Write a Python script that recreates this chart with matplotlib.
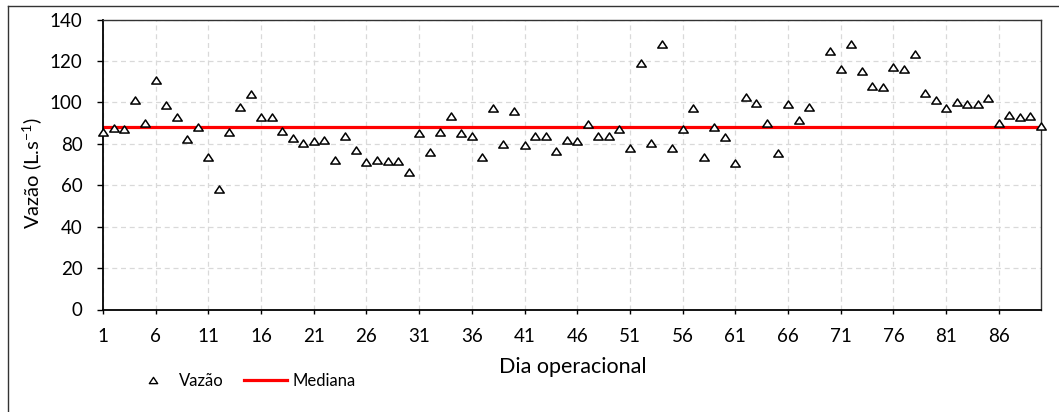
import numpy as np
import matplotlib
matplotlib.use("Agg")
import matplotlib.pyplot as plt
from matplotlib.lines import Line2D
from matplotlib.path import Path

plt.rcParams['font.family'] = ['Lato', 'DejaVu Sans']
plt.rcParams['mathtext.fontset'] = 'custom'
plt.rcParams['mathtext.rm'] = 'Lato'

# Daily flow (L/s) per operational day; day 69 has no record
dias = list(range(1, 91))
vazao = [
    85.6, 87.7, 86.9, 100.9, 90.1, 110.6, 98.5, 92.9, 82.4, 88.2,
    73.5, 58.3, 85.6, 97.8, 104.1, 92.7, 92.7, 86.1, 83.0, 80.3,
    81.3, 81.9, 72.3, 83.8, 76.8, 71.0, 72.3, 71.6, 71.6, 66.6,
    85.1, 76.1, 85.6, 93.3, 85.0, 83.8, 73.5, 97.2, 79.8, 95.9,
    79.2, 83.8, 83.8, 76.6, 81.9, 81.3, 89.6, 83.8, 83.8, 87.1,
    78.0, 118.8, 80.5, 128.4, 78.2, 87.1, 97.2, 73.5, 88.3, 83.2,
    70.5, 102.8, 99.8, 90.1, 75.5, 99.1, 91.6, 97.8, np.nan, 124.7,
    115.9, 128.4, 115.1, 108.1, 107.3, 117.0, 116.3, 123.4, 104.3, 101.1,
    97.2, 100.4, 99.1, 99.1, 102.3, 90.1, 94.1, 92.9, 93.5, 88.8,
]
mediana = 88.0
x_ticks = list(range(1, 90, 5))
y_ticks = list(range(0, 141, 20))

# wide, flat triangle marker
tri = Path([(0, 0.75), (-1, -0.75), (1, -0.75), (0, 0.75)], closed=True)

W, H = 1059, 412
fig = plt.figure(figsize=(W / 100, H / 100), dpi=100)
ax = fig.add_axes([103 / W, 1 - 309.5 / H, (1041 - 103) / W, (309.5 - 19.5) / H])

ax.plot(dias, [mediana] * len(dias), color='#FF0000', lw=2.3, zorder=2, label='Mediana')
ax.plot(dias, vazao, linestyle='none', marker=tri, markersize=6.8,
        markerfacecolor='white', markeredgecolor='black', markeredgewidth=1.1,
        zorder=3, label='Vazão', clip_on=False)

ax.set_xlim(1, 90)
ax.set_ylim(0, 140)
ax.set_xticks(x_ticks)
ax.set_yticks(y_ticks)
ax.tick_params(axis='both', labelsize=13.5, color='black', direction='out', width=1)
ax.tick_params(axis='x', length=3, pad=10)
ax.tick_params(axis='y', length=4.3, pad=10.5)

ax.grid(True, color='#D9D9D9', linestyle=(0, (4, 3)), linewidth=0.9, zorder=0)
ax.set_axisbelow(True)
for side in ['left', 'bottom']:
    ax.spines[side].set_linewidth(1.3)
for side in ['top', 'right']:
    ax.spines[side].set_linewidth(1.0)
    ax.spines[side].set_color('#333333')

ax.set_xlabel('Dia operacional', fontsize=15.5)
ax.xaxis.set_label_coords(0.501, (309.5 - 357) / 290)
ax.set_ylabel('Vazão (L.s$^{\\mathregular{-1}}$)', fontsize=14.5)
ax.yaxis.set_label_coords((45 - 103) / 938, 0.47)

handles = [
    Line2D([], [], linestyle='none', marker=tri, markersize=6,
           markerfacecolor='white', markeredgecolor='black', markeredgewidth=1.0),
    Line2D([], [], color='#FF0000', lw=2.3),
]
fig.legend(handles, ['Vazão', 'Mediana'], loc='center left',
           bbox_to_anchor=(131 / W, 1 - 381 / H), ncol=2, frameon=False,
           fontsize=12, handlelength=2.6, handletextpad=0.3, columnspacing=1.2,
           borderpad=0, borderaxespad=0)

# chart-area border (top and left edges)
fig.add_artist(Line2D([8 / W, 1.0], [1 - 6 / H, 1 - 6 / H],
                      transform=fig.transFigure, color='#333333', lw=1.0))
fig.add_artist(Line2D([8 / W, 8 / W], [0.0, 1 - 6 / H],
                      transform=fig.transFigure, color='#333333', lw=1.0))

fig.savefig('out.png', dpi=100)
